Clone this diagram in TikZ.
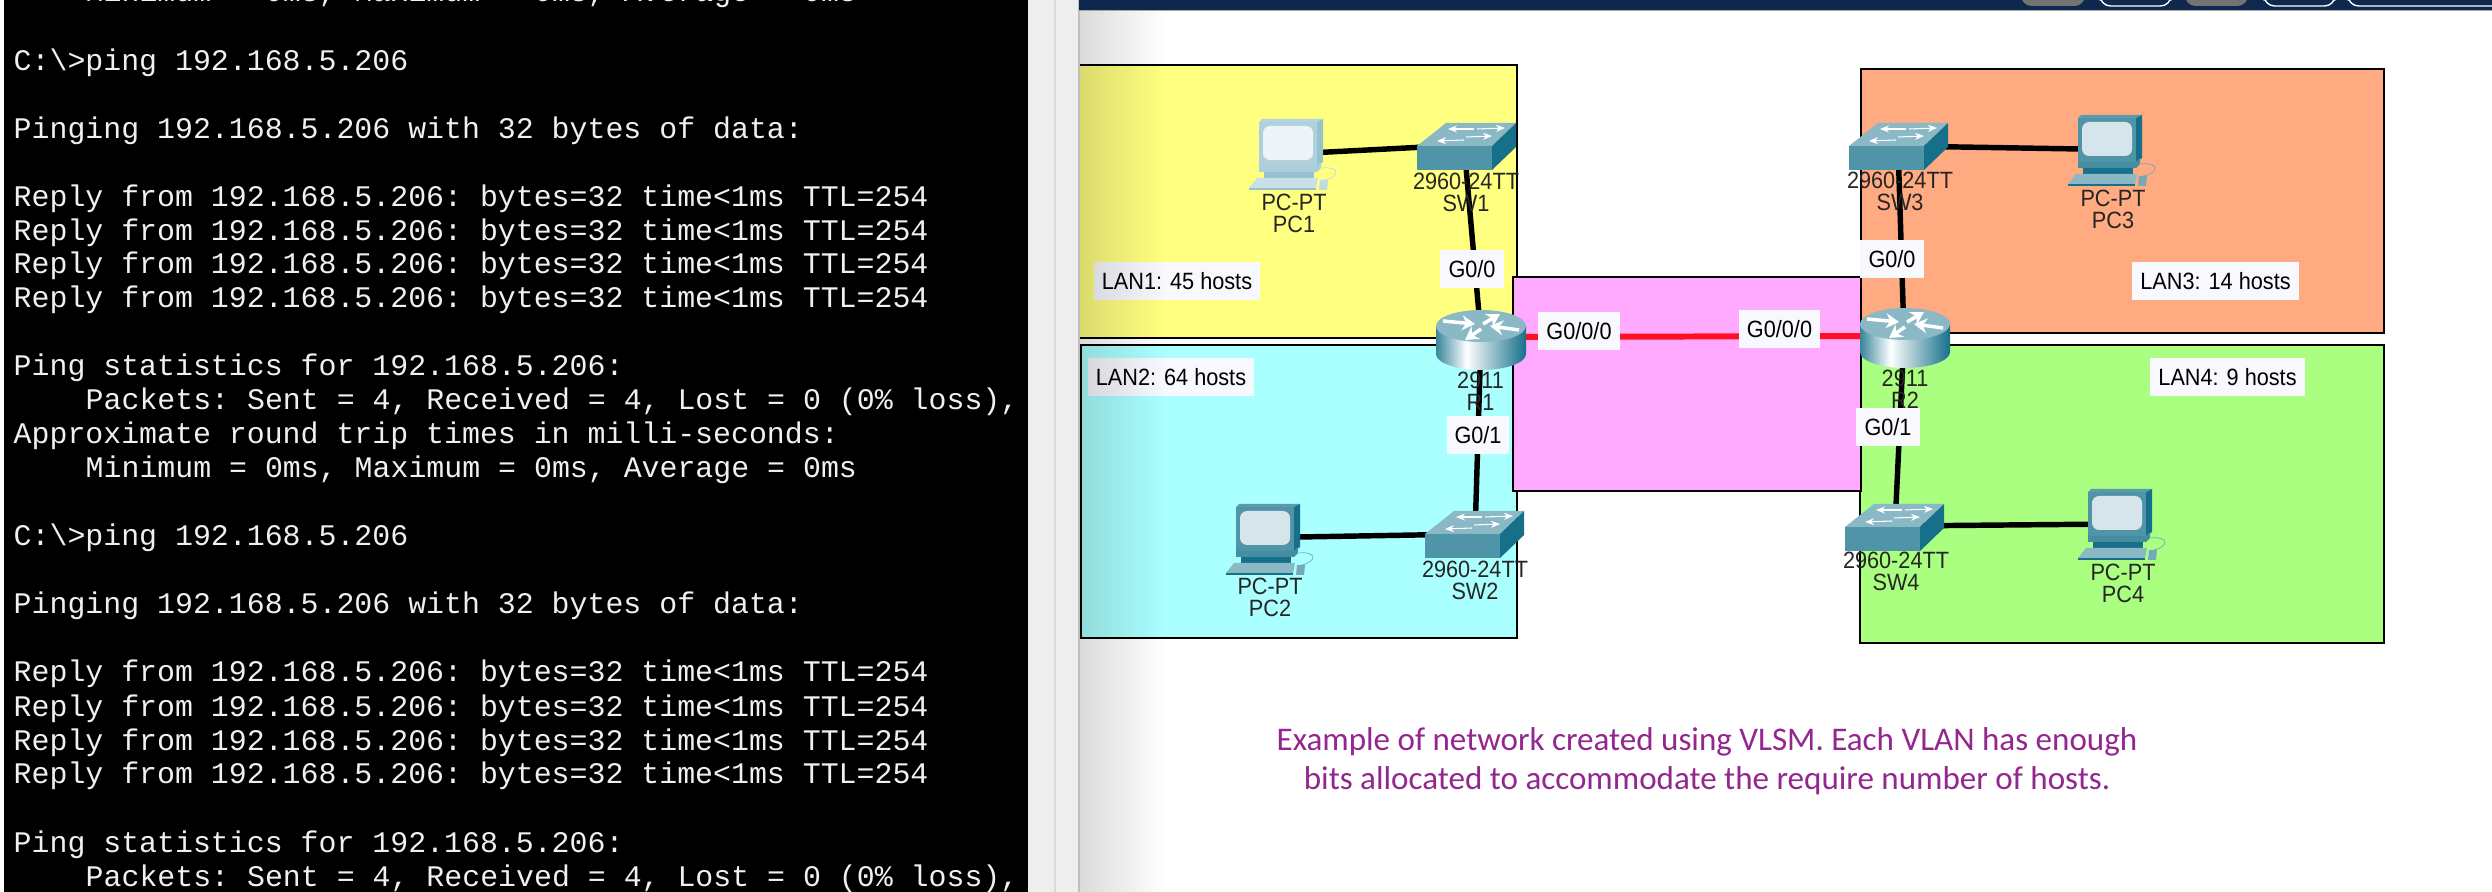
\documentclass[tikz,border=0pt]{standalone}
\usepackage{fontspec}
\setmainfont{Liberation Sans}
\setmonofont{Liberation Mono}
\newfontfamily\packetfont[FakeStretch=0.92]{Liberation Sans}
\newfontfamily\notefont{Carlito}
\usetikzlibrary{arrows.meta,fadings}
\definecolor{winbar}{RGB}{14,40,78}
\definecolor{strip}{RGB}{238,238,238}
\definecolor{lanyellow}{RGB}{255,255,128}
\definecolor{lancyan}{RGB}{170,255,255}
\definecolor{lanpink}{RGB}{255,170,255}
\definecolor{lanorange}{RGB}{255,170,128}
\definecolor{langreen}{RGB}{170,255,128}
\definecolor{tagwhite}{RGB}{248,249,255}
\definecolor{devteal}{RGB}{22,112,138}
\definecolor{devpale}{RGB}{150,194,208}
\definecolor{linkred}{RGB}{255,16,32}
\definecolor{noteviolet}{RGB}{147,39,143}
\pgfdeclarehorizontalshading{routerbody}{100bp}{
  color(0bp)=(devteal); color(25bp)=(devteal!85); color(42bp)=(white);
  color(55bp)=(devteal!40); color(75bp)=(devteal); color(100bp)=(devteal)}
\tikzset{
  lan/.style={draw=black,line width=0.6pt,fill=#1},
  hub/.style={inner sep=0pt,minimum size=0pt},
  link/.style={draw=#1,line width=1.55pt},
  link/.default=black,
  tagbox/.style={fill=tagwhite,inner sep=0pt,minimum height=3.8mm,minimum width=#1,
    font=\packetfont\fontsize{6.7}{7}\selectfont},
  devlabel/.style={align=center,inner sep=0pt,text=black!85,
    font=\packetfont\fontsize{6.7}{6.25}\selectfont},
  termline/.style={anchor=base west,inner sep=0pt,text=black!6,
    font=\ttfamily\fontsize{8.5}{10}\selectfont},
  % pictograms
  pics/pc/.style={code={
    \draw[#1!60,line width=0.2pt] (63,46) .. controls (80,44) and (82,54) .. (66,58);
    \fill[#1!70!white] (0,0) -- (3,-3) -- (64,-3) -- (58,0) -- cycle;
    \fill[#1] (58,0) -- (64,-3) -- (64,40) -- (58,44) -- cycle;
    \fill[#1!75!white] (0,0) rectangle (58,44);
    \fill[white!82!#1,rounded corners=2pt] (4,4) rectangle (54,38);
    \fill[#1!80!white] (0,44) -- (58,44) -- (62,40) -- (62,46) -- (58,50) -- (0,50) -- cycle;
    \fill[#1] (5,50) rectangle (55,56);
    \fill[#1!50!white] (-2,56) -- (59,56) -- (57,66) -- (-10,66) -- cycle;
    \fill[#1] (-10,66) rectangle (57,68);
    \fill[#1!60!white] (61,58) -- (69,58) -- (68,68) -- (60,68) -- cycle;
  }},
  pics/sw/.style={code={
    \fill[#1!50!white] (0,0) -- (29,-23) -- (99,-23) -- (75,0) -- cycle;
    \fill[#1!75!white] (0,0) rectangle (75,24);
    \fill[#1] (75,0) -- (99,-23) -- (99,1) -- (75,24) -- cycle;
    \foreach \xa/\xb/\ya/\yb in {57/31/-17/-17,60/88/-17/-18,47/20/-6/-5,49/75/-9/-10}
      \draw[white,line width=0.3pt,-{Stealth[length=0.9mm,width=0.7mm]}] (\xa,\ya) -- (\xb,\yb);
  }},
  pics/router/.style={code={
    \shade[shading=routerbody] (-45,0) -- (-45,28) arc (180:0:45 and 16) -- (45,0) -- cycle;
    \fill[#1!50!white] (0,0) ellipse (45 and 16);
    \foreach \xa/\ya/\xb/\yb in {-38/-5/-6/-2,2/-2/19/-12,38/4/9/0,0/3/-16/14}
      \draw[white,line width=1pt,-{Stealth[length=1.3mm,width=1.5mm]}] (\xa,\ya) -- (\xb,\yb);
  }},
}
\begin{document}
\begin{tikzpicture}[x=0.01cm,y=-0.01cm]
  \useasboundingbox (0,0) rectangle (2492,892);
  \clip (0,0) rectangle (2492,892);
  % console
  \fill[white] (0,0) rectangle (2492,892);
  \fill[black] (4,0) rectangle (1028,892);
  \foreach \x/\y/\t [count=\n] in {
    85/2/{Minimum = 0ms, Maximum = 0ms, Average = 0ms},
    13/71/{C:\textbackslash>ping 192.168.5.206},
    13/139/{Pinging 192.168.5.206 with 32 bytes of data:},
    13/207/{Reply from 192.168.5.206: bytes=32 time<1ms TTL=254},
    13/241/{Reply from 192.168.5.206: bytes=32 time<1ms TTL=254},
    13/274/{Reply from 192.168.5.206: bytes=32 time<1ms TTL=254},
    13/308/{Reply from 192.168.5.206: bytes=32 time<1ms TTL=254},
    13/376/{Ping statistics for 192.168.5.206:},
    85/410/{Packets: Sent = 4, Received = 4, Lost = 0 (0\% loss),},
    13/444/{Approximate round trip times in milli-seconds:},
    85/478/{Minimum = 0ms, Maximum = 0ms, Average = 0ms},
    13/546/{C:\textbackslash>ping 192.168.5.206},
    13/614/{Pinging 192.168.5.206 with 32 bytes of data:},
    13/682/{Reply from 192.168.5.206: bytes=32 time<1ms TTL=254},
    13/716/{Reply from 192.168.5.206: bytes=32 time<1ms TTL=254},
    13/750/{Reply from 192.168.5.206: bytes=32 time<1ms TTL=254},
    13/784/{Reply from 192.168.5.206: bytes=32 time<1ms TTL=254},
    13/852/{Ping statistics for 192.168.5.206:},
    85/886/{Packets: Sent = 4, Received = 4, Lost = 0 (0\% loss),}}
    \node[termline] (line\n) at (\x,\y) {\t};
  % LANs
  \draw[lan=lanyellow] (1070,65) rectangle (1517,338);
  \draw[lan=lancyan] (1081,345) rectangle (1517,638);
  \draw[lan=lanorange] (1861,69) rectangle (2384,333);
  \draw[lan=langreen] (1860,345) rectangle (2384,643);
  \draw[lan=lanpink] (1513,277) rectangle (1861,491);
  % window edge
  \fill[strip] (1028,0) rectangle (1079,892);
  \draw[black!15,line width=0.3pt] (1055,0) -- (1055,892);
  \draw[black!25,line width=0.3pt] (1079,0) -- (1079,892);
  \fill[winbar] (1079,0) rectangle (2492,10);
  \draw[black!35,line width=0.3pt] (1079,10.5) -- (2492,10.5);
  \fill[black!55,rounded corners=3pt] (2021,-10) rectangle (2085,6);
  \fill[black!55,rounded corners=3pt] (2185,-10) rectangle (2248,6);
  \draw[white,line width=0.4pt,rounded corners=3pt] (2100,-10) rectangle (2171,6);
  \draw[white,line width=0.4pt,rounded corners=3pt] (2264,-10) rectangle (2335,6);
  \draw[white,line width=0.4pt,rounded corners=3pt] (2348,-10) rectangle (2540,6);
  % devices
  \node[hub] (pc1) at (1290,154) {};
  \node[hub] (pc2) at (1270,537.5) {};
  \node[hub] (pc3) at (2110,149.5) {};
  \node[hub] (pc4) at (2118,524) {};
  \node[hub] (sw1) at (1464,145) {};
  \node[hub] (sw2) at (1475,534) {};
  \node[hub] (sw3) at (1898,146) {};
  \node[hub] (sw4) at (1895,526) {};
  \node[hub] (r1) at (1481,337) {};
  \node[hub] (r2) at (1904,336) {};
  \draw[link] (pc1) -- (sw1);
  \draw[link] (pc2) -- (sw2);
  \draw[link] (pc3) -- (sw3);
  \draw[link] (pc4) -- (sw4);
  \draw[link] (sw1) -- (r1);
  \draw[link] (sw2) -- (r1);
  \draw[link] (sw3) -- (r2);
  \draw[link] (sw4) -- (r2);
  \draw[link=linkred,line width=1.7pt] (r1) -- (r2);
  \pic at (1259,122) {pc=devpale};
  \pic at (1236,507) {pc=devteal};
  \pic at (2078,118) {pc=devteal};
  \pic at (2088,492) {pc=devteal};
  \pic at (1417,146) {sw=devteal};
  \pic at (1425,534) {sw=devteal};
  \pic at (1849,146) {sw=devteal};
  \pic at (1845,527) {sw=devteal};
  \pic at (1481,326) {router=devteal};
  \pic at (1905,324) {router=devteal};
  \node[devlabel] (pc1 label) at (1294,213) {PC-PT\\PC1};
  \node[devlabel] (pc2 label) at (1270,597) {PC-PT\\PC2};
  \node[devlabel] (pc3 label) at (2113,209) {PC-PT\\PC3};
  \node[devlabel] (pc4 label) at (2123,583) {PC-PT\\PC4};
  \node[devlabel] (sw1 label) at (1466,192.5) {2960-24TT\\SW1};
  \node[devlabel] (sw2 label) at (1475,580) {2960-24TT\\SW2};
  \node[devlabel] (sw3 label) at (1900,191) {2960-24TT\\SW3};
  \node[devlabel] (sw4 label) at (1896,571.5) {2960-24TT\\SW4};
  \node[devlabel] (r1 label) at (1480.5,391.5) {2911\\R1};
  \node[devlabel] (r2 label) at (1905,389.5) {2911\\R2};
  % tags
  \node[tagbox=1.66cm] (lan1) at (1177,281) {LAN1: 45 hosts};
  \node[tagbox=1.66cm] (lan2) at (1171,377) {LAN2: 64 hosts};
  \node[tagbox=1.67cm] (lan3) at (2215.5,281) {LAN3: 14 hosts};
  \node[tagbox=1.55cm] (lan4) at (2227.5,377) {LAN4: 9 hosts};
  \node[tagbox=0.64cm] (g00a) at (1472,269) {G0/0};
  \node[tagbox=0.64cm] (g00b) at (1892,259) {G0/0};
  \node[tagbox=0.62cm] (g01a) at (1478,435) {G0/1};
  \node[tagbox=0.64cm] (g01b) at (1888,427) {G0/1};
  \node[tagbox=0.82cm] (g000a) at (1579,331) {G0/0/0};
  \node[tagbox=0.81cm] (g000b) at (1779.5,329) {G0/0/0};
  % caption
  \node[align=center,inner sep=0pt,text=noteviolet,font=\notefont\fontsize{9.4}{11}\selectfont]
    (note) at (1707,761) {Example of network created using VLSM. Each VLAN has enough\\bits allocated to accommodate the require number of hosts.};
  % window shadow
  \fill[black,opacity=0.14,path fading=east] (1080,11) rectangle (1165,892);
\end{tikzpicture}
\end{document}
